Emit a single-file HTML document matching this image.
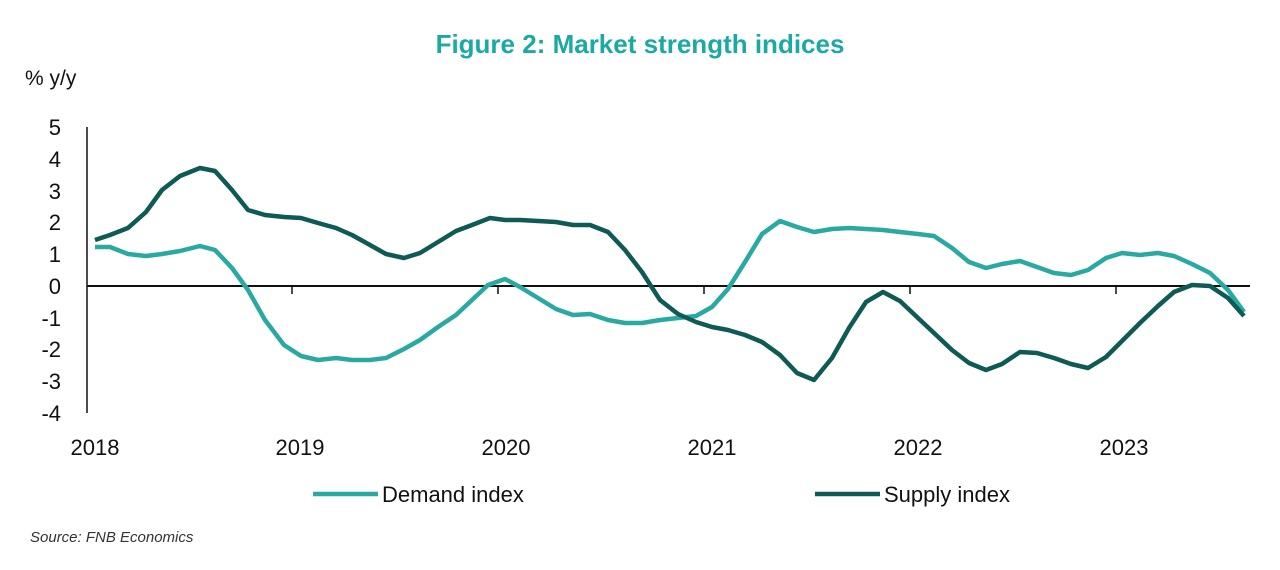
<!DOCTYPE html>
<html><head><meta charset="utf-8"><style>
body{margin:0;background:#fff;width:1280px;height:565px;overflow:hidden;font-family:"Liberation Sans",sans-serif}
</style></head><body>
<svg width="1280" height="565" xmlns="http://www.w3.org/2000/svg" font-family="Liberation Sans, sans-serif">
<text x="640" y="53" text-anchor="middle" font-size="26" font-weight="bold" fill="#1ba9a4">Figure 2: Market strength indices</text>
<text x="25" y="85" font-size="21" fill="#111">% y/y</text>
<g font-size="22" fill="#111" text-anchor="end">
<text x="61" y="135">5</text><text x="61" y="167">4</text><text x="61" y="199">3</text><text x="61" y="230">2</text><text x="61" y="262">1</text><text x="61" y="294">0</text><text x="61" y="326">-1</text><text x="61" y="357">-2</text><text x="61" y="389">-3</text><text x="61" y="421">-4</text>
</g>
<line x1="87" y1="127" x2="87" y2="413" stroke="#111" stroke-width="1.5"/>
<line x1="87" y1="286" x2="1250" y2="286" stroke="#111" stroke-width="2"/>
<g stroke="#111" stroke-width="1.5">
<line x1="292" y1="286" x2="292" y2="294"/><line x1="498" y1="286" x2="498" y2="294"/><line x1="704" y1="286" x2="704" y2="294"/><line x1="910" y1="286" x2="910" y2="294"/><line x1="1116" y1="286" x2="1116" y2="294"/>
</g>
<g font-size="22" fill="#111" text-anchor="middle">
<text x="95" y="455">2018</text><text x="300" y="455">2019</text><text x="506" y="455">2020</text><text x="712" y="455">2021</text><text x="918" y="455">2022</text><text x="1124" y="455">2023</text>
</g>
<polyline fill="none" stroke="#2aa9a3" stroke-width="4.5" stroke-linejoin="round" points="95,247 110,247 128,254 146,256 162,254 180,251 200,246 215,250 232,268 248,290 265,320 284,345 301,356 318,360 336,358 352,360 370,360 386,358 404,349 420,340 438,327 456,315 472,300 488,285 505,279 520,287 538,298 556,309 573,315 590,314 608,320 625,323 642,323 660,320 678,318 696,316 712,307 728,289 745,262 762,234 780,221 797,227 814,232 832,229 849,228 866,229 883,230 900,232 918,234 934,236 952,248 969,262 986,268 1002,264 1020,261 1037,267 1054,273 1071,275 1088,270 1106,258 1122,253 1140,255 1158,253 1174,256 1192,264 1210,273 1228,290 1244,312"/>
<polyline fill="none" stroke="#0e5a55" stroke-width="4.5" stroke-linejoin="round" points="95,240 110,235 128,228 146,212 162,190 180,176 200,168 215,171 232,190 248,210 265,215 284,217 301,218 318,223 336,228 352,235 370,245 386,254 404,258 420,253 438,242 456,231 472,225 490,218 505,220 520,220 538,221 556,222 573,225 590,225 608,232 625,250 642,272 660,300 678,314 696,322 712,327 728,330 745,335 762,342 780,355 797,373 814,380 832,358 849,328 866,302 883,292 900,301 918,318 934,333 952,350 969,363 986,370 1002,364 1020,352 1037,353 1054,358 1071,364 1088,368 1106,357 1122,341 1140,323 1158,306 1174,292 1192,285 1210,286 1228,298 1244,316"/>
<line x1="313" y1="494" x2="378" y2="494" stroke="#2aa9a3" stroke-width="4.5"/>
<text x="382" y="502" font-size="22" fill="#111">Demand index</text>
<line x1="815" y1="494" x2="880" y2="494" stroke="#0e5a55" stroke-width="4.5"/>
<text x="884" y="502" font-size="22" fill="#111">Supply index</text>
<text x="30" y="542" font-size="15" font-style="italic" fill="#333">Source: FNB Economics</text>
</svg>
</body></html>
